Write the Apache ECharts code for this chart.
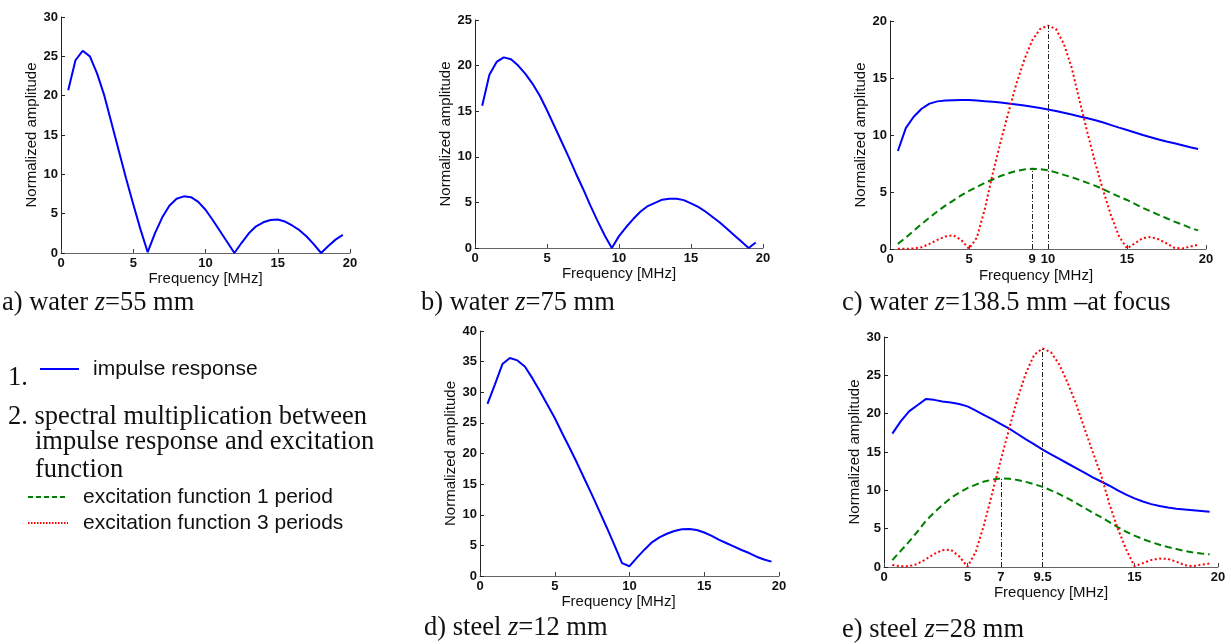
<!DOCTYPE html>
<html>
<head>
<meta charset="utf-8">
<script src="https://cdn.jsdelivr.net/npm/echarts@6/dist/echarts.min.js"></script>
<style>html,body{margin:0;padding:0;background:#fff}#c{width:1231px;height:644px}</style>
</head>
<body>
<div id="c"></div>
<script>
// ---- data ----
const freq = [0.5,1,1.5,2,2.5,3,3.5,4,4.5,5,5.5,6,6.5,7,7.5,8,8.5,9,9.5,10,10.5,11,11.5,12,12.5,13,13.5,14,14.5,15,15.5,16,16.5,17,17.5,18,18.5,19,19.5];
const waterZ55 = [20.7,24.5,25.7,25.0,22.8,20.0,16.5,13.0,9.5,6.2,3.0,0.1,2.5,4.5,6.0,6.9,7.2,7.1,6.5,5.5,4.2,2.8,1.4,0.0,1.3,2.5,3.4,3.9,4.2,4.25,4.0,3.5,2.9,2.1,1.1,0.0,0.9,1.7,2.3];
const waterZ75 = [15.6,19.0,20.4,20.9,20.7,20.0,19.1,18.0,16.7,15.1,13.4,11.7,10.0,8.2,6.5,4.7,3.0,1.4,0.0,1.3,2.3,3.2,4.0,4.6,4.95,5.3,5.4,5.4,5.25,4.9,4.5,4.0,3.4,2.8,2.1,1.4,0.7,0.0,0.6];
const focusImpulse = [8.6,10.6,11.6,12.3,12.75,12.95,13.02,13.05,13.06,13.06,13.02,12.97,12.92,12.85,12.77,12.68,12.58,12.48,12.36,12.24,12.1,11.95,11.8,11.63,11.47,11.3,11.1,10.87,10.65,10.44,10.22,10.0,9.8,9.6,9.43,9.27,9.1,8.93,8.78];
const focusExc1 = [0.45,1.0,1.6,2.2,2.75,3.3,3.8,4.25,4.7,5.1,5.45,5.8,6.1,6.4,6.65,6.85,6.98,7.04,7.0,6.9,6.72,6.5,6.3,6.06,5.8,5.54,5.25,4.9,4.6,4.3,3.95,3.6,3.3,3.0,2.7,2.4,2.15,1.85,1.63];
const focusExc3 = [0.02,0.02,0.05,0.15,0.45,0.8,1.1,1.2,0.8,0.02,1.0,3.5,6.6,9.4,12.0,14.5,16.6,18.3,19.3,19.6,19.3,18.0,15.9,13.0,10.2,7.5,5.1,2.9,1.1,0.05,0.5,0.95,1.05,0.85,0.5,0.1,0.05,0.2,0.38];
const steelZ12 = [28.1,31.3,34.6,35.6,35.2,34.2,32.3,30.2,28.0,25.8,23.3,20.9,18.4,15.8,13.2,10.5,7.8,5.0,2.1,1.6,3.0,4.3,5.5,6.3,6.9,7.35,7.62,7.68,7.5,7.1,6.55,5.9,5.35,4.8,4.25,3.75,3.15,2.7,2.35];
const steelImpulse = [17.4,19.0,20.3,21.1,21.9,21.8,21.6,21.45,21.25,20.95,20.4,19.8,19.25,18.65,18.05,17.35,16.65,16.0,15.3,14.7,14.1,13.5,12.9,12.3,11.7,11.15,10.6,10.0,9.45,8.95,8.55,8.2,7.95,7.75,7.6,7.5,7.4,7.3,7.2];
const steelExc1 = [0.9,2.1,3.3,4.6,6.0,7.1,8.1,9.0,9.7,10.3,10.75,11.15,11.4,11.55,11.5,11.35,11.1,10.8,10.45,10.0,9.5,8.95,8.35,7.7,7.1,6.5,5.85,5.2,4.6,4.1,3.65,3.25,2.9,2.6,2.35,2.1,1.9,1.75,1.65];
const steelExc3 = [0.25,0.1,0.1,0.4,1.0,1.7,2.2,2.25,1.4,0.05,2.0,5.6,9.8,14.0,18.1,22.0,25.3,27.7,28.5,28.0,26.4,24.0,21.3,18.1,15.0,12.0,8.2,5.0,2.3,0.1,0.5,0.9,1.1,1.05,0.7,0.25,0.1,0.3,0.45];
// peak markers [frequency, amplitude]
const focusPeaks = [[9, 7.04], [10, 19.6]];
const steelPeaks = [[7, 11.55], [9.5, 28.5]];
// tick labels
const xTicksDefault = [0, 5, 10, 15, 20];
const xTicksFocus = [0, 5, 9, 10, 15, 20];
const xTicksSteel = [0, 5, 7, 9.5, 15, 20];
const yMax = [30, 25, 20, 40, 30];
const captions = [
  ['a) water ', 'z', '=55 mm'],
  ['b) water ', 'z', '=75 mm'],
  ['c) water ', 'z', '=138.5 mm \u2013at focus'],
  ['d) steel ', 'z', '=12 mm'],
  ['e) steel ', 'z', '=28 mm']
];
const legendTexts = ['impulse response', 'excitation function 1 period', 'excitation function 3 periods'];

// ---- layout ----
const grids = [
  {left: 61, top: 17, width: 289, height: 236},
  {left: 475, top: 20, width: 288, height: 228},
  {left: 890, top: 21, width: 316, height: 228},
  {left: 480, top: 331, width: 299, height: 245},
  {left: 884, top: 337, width: 334, height: 230}
];
const yNameGap = [21, 14, 17, 17, 19];
const xNameGap = [15, 18, 19, 16, 18];
const xNameShift = [0, 0, 24, 22, 0];
const xTickSets = [xTicksDefault, xTicksDefault, xTicksFocus, xTicksDefault, xTicksSteel];

const sans = 'Arial, "Liberation Sans", sans-serif';
const serif = '"Times New Roman", "Liberation Serif", serif';
const pair = arr => freq.map((f, i) => [f, arr[i]]);

const xAxes = grids.map((g, i) => ({
  gridIndex: i, type: 'value', min: 0, max: 20, interval: 5,
  name: 'Frequency [MHz]', nameLocation: 'middle', nameGap: xNameGap[i],
  nameTextStyle: {fontFamily: sans, fontSize: 15, color: '#111', padding: [0, xNameShift[i], 0, 0]},
  axisLine: {show: true, lineStyle: {color: '#666', width: 1}},
  axisTick: {show: true, inside: true, length: 4, lineStyle: {color: '#444'}, customValues: xTickSets[i]},
  axisLabel: {fontFamily: sans, fontSize: 13, fontWeight: 'bold', color: '#111', margin: 4, customValues: xTickSets[i]},
  splitLine: {show: false}
}));
const yAxes = grids.map((g, i) => ({
  gridIndex: i, type: 'value', min: 0, max: yMax[i], interval: 5,
  name: 'Normalized amplitude', nameLocation: 'middle', nameGap: yNameGap[i],
  nameTextStyle: {fontFamily: sans, fontSize: 15, color: '#111'},
  axisLine: {show: true, lineStyle: {color: '#222', width: 1}},
  axisTick: {show: true, inside: true, length: 4, lineStyle: {color: '#222'}},
  axisLabel: {fontFamily: sans, fontSize: 13, fontWeight: 'bold', color: '#111', margin: 3},
  splitLine: {show: false}
}));

const blue = '#0000ff', green = '#008000', red = '#ff0000';
function line(idx, arr, color, dash, extra) {
  return Object.assign({
    type: 'line', xAxisIndex: idx, yAxisIndex: idx, data: pair(arr),
    showSymbol: false, symbol: 'none', smooth: false, animation: false, silent: true,
    lineStyle: {color: color, width: 2, type: dash || 'solid'}, z: 3
  }, extra || {});
}
function peakLines(peaks) {
  return {
    symbol: 'none', silent: true, label: {show: false}, animation: false,
    lineStyle: {color: '#222', width: 1, type: [5, 2, 1, 2]},
    data: peaks.map(p => [{coord: [p[0], 0]}, {coord: [p[0], p[1]]}])
  };
}

const series = [
  line(0, waterZ55, blue),
  line(1, waterZ75, blue),
  line(2, focusImpulse, blue),
  line(2, focusExc1, green, [7, 4]),
  line(2, focusExc3, red, [2, 2.5], {markLine: peakLines(focusPeaks)}),
  line(3, steelZ12, blue),
  line(4, steelImpulse, blue),
  line(4, steelExc1, green, [7, 4]),
  line(4, steelExc3, red, [2, 2.5], {markLine: peakLines(steelPeaks)})
];

// ---- captions & legend (text) ----
const capPos = [[2, 303], [421, 303], [842, 303], [424, 628], [842, 630]];
const capSize = 26.5;
const rich = {
  n: {fontFamily: serif, fontSize: capSize, fill: '#111'},
  i: {fontFamily: serif, fontSize: capSize, fontStyle: 'italic', fill: '#111'}
};
const graphic = captions.map((c, i) => ({
  type: 'text', x: capPos[i][0], y: capPos[i][1],
  style: {text: '{n|' + c[0] + '}{i|' + c[1] + '}{n|' + c[2] + '}', rich: rich, verticalAlign: 'middle', textVerticalAlign: 'middle'}
}));
const serifLines = [
  {t: '1.', x: 8, y: 378},
  {t: '2. spectral multiplication between', x: 8, y: 417},
  {t: 'impulse response and excitation', x: 35, y: 442},
  {t: 'function', x: 35, y: 470}
];
serifLines.forEach(s => graphic.push({
  type: 'text', x: s.x, y: s.y,
  style: {text: s.t, fontFamily: serif, fontSize: capSize, fill: '#111', verticalAlign: 'middle', textVerticalAlign: 'middle'}
}));
const legendRows = [
  {x1: 40, x2: 79, y: 369, tx: 93, color: blue, dash: null},
  {x1: 28, x2: 68, y: 497, tx: 83, color: green, dash: [5, 3]},
  {x1: 28, x2: 68, y: 523, tx: 83, color: red, dash: [1.5, 1.5]}
];
legendRows.forEach((r, i) => {
  graphic.push({type: 'line', shape: {x1: r.x1, y1: r.y, x2: r.x2, y2: r.y},
    style: {stroke: r.color, lineWidth: 2, lineDash: r.dash}});
  graphic.push({type: 'text', x: r.tx, y: r.y,
    style: {text: legendTexts[i], fontFamily: sans, fontSize: 21, fill: '#111', verticalAlign: 'middle', textVerticalAlign: 'middle'}});
});

const chart = echarts.init(document.getElementById('c'), null, {renderer: 'canvas'});
chart.setOption({
  backgroundColor: '#fff',
  animation: false,
  grid: grids.map(g => Object.assign({containLabel: false}, g)),
  xAxis: xAxes,
  yAxis: yAxes,
  series: series,
  graphic: graphic
});
</script>
</body>
</html>
